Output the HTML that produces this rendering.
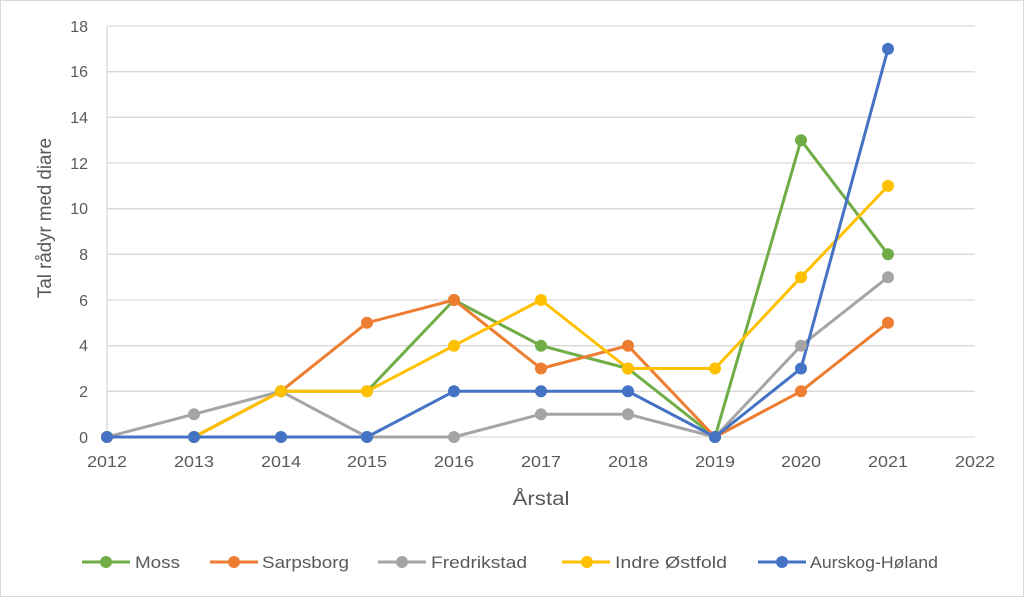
<!DOCTYPE html>
<html><head><meta charset="utf-8"><style>
body{margin:0;background:#fff}
svg{display:block;font-family:"Liberation Sans",sans-serif}
</style></head><body>
<svg width="1024" height="597" viewBox="0 0 1024 597">
<rect x="0.5" y="0.5" width="1023" height="596" fill="#fff" stroke="#d9d9d9"/>
<g stroke="#d9d9d9" stroke-width="1.3">
<line x1="107" y1="26" x2="975" y2="26"/>
<line x1="107" y1="71.7" x2="975" y2="71.7"/>
<line x1="107" y1="117.3" x2="975" y2="117.3"/>
<line x1="107" y1="163" x2="975" y2="163"/>
<line x1="107" y1="208.7" x2="975" y2="208.7"/>
<line x1="107" y1="254.3" x2="975" y2="254.3"/>
<line x1="107" y1="300" x2="975" y2="300"/>
<line x1="107" y1="345.7" x2="975" y2="345.7"/>
<line x1="107" y1="391.3" x2="975" y2="391.3"/>
<line x1="107" y1="437" x2="975" y2="437"/>
<line x1="107" y1="26" x2="107" y2="437"/>
</g>
<g fill="#595959" font-size="16" text-anchor="end">
<text x="88" y="32">18</text><text x="88" y="77">16</text><text x="88" y="123">14</text>
<text x="88" y="169">12</text><text x="88" y="214">10</text><text x="88" y="260">8</text>
<text x="88" y="306">6</text><text x="88" y="351">4</text><text x="88" y="397">2</text>
<text x="88" y="443">0</text>
</g>
<g fill="#595959" font-size="16" text-anchor="middle">
<text x="107" y="467" textLength="40" lengthAdjust="spacingAndGlyphs">2012</text><text x="194" y="467" textLength="40" lengthAdjust="spacingAndGlyphs">2013</text><text x="281" y="467" textLength="40" lengthAdjust="spacingAndGlyphs">2014</text>
<text x="367" y="467" textLength="40" lengthAdjust="spacingAndGlyphs">2015</text><text x="454" y="467" textLength="40" lengthAdjust="spacingAndGlyphs">2016</text><text x="541" y="467" textLength="40" lengthAdjust="spacingAndGlyphs">2017</text>
<text x="628" y="467" textLength="40" lengthAdjust="spacingAndGlyphs">2018</text><text x="715" y="467" textLength="40" lengthAdjust="spacingAndGlyphs">2019</text><text x="801" y="467" textLength="40" lengthAdjust="spacingAndGlyphs">2020</text>
<text x="888" y="467" textLength="40" lengthAdjust="spacingAndGlyphs">2021</text><text x="975" y="467" textLength="40" lengthAdjust="spacingAndGlyphs">2022</text>
<text x="541" y="505" font-size="19" textLength="57" lengthAdjust="spacingAndGlyphs">Årstal</text>
<text transform="translate(51,218) rotate(-90)" font-size="19" textLength="160" lengthAdjust="spacingAndGlyphs">Tal rådyr med diare</text>
</g>
<g fill="none" stroke-width="3" stroke-linejoin="round">
<polyline stroke="#70AD47" points="107,437 194,437 281,391.3 367,391.3 454,300 541,345.7 628,368.5 715,437 801,140.2 888,254.3"/>
<polyline stroke="#ED7D31" points="107,437 194,437 281,391.3 367,322.8 454,300 541,368.5 628,345.7 715,437 801,391.3 888,322.8"/>
<polyline stroke="#A5A5A5" points="107,437 194,414.2 281,391.3 367,437 454,437 541,414.2 628,414.2 715,437 801,345.7 888,277.2"/>
<polyline stroke="#FFC000" points="107,437 194,437 281,391.3 367,391.3 454,345.7 541,300 628,368.5 715,368.5 801,277.2 888,185.9"/>
<polyline stroke="#4472C4" points="107,437 194,437 281,437 367,437 454,391.3 541,391.3 628,391.3 715,437 801,368.5 888,48.9"/>
</g>
<g fill="#70AD47"><circle cx="107" cy="437" r="6"/><circle cx="194" cy="437" r="6"/><circle cx="281" cy="391.3" r="6"/><circle cx="367" cy="391.3" r="6"/><circle cx="454" cy="300" r="6"/><circle cx="541" cy="345.7" r="6"/><circle cx="628" cy="368.5" r="6"/><circle cx="715" cy="437" r="6"/><circle cx="801" cy="140.2" r="6"/><circle cx="888" cy="254.3" r="6"/></g>
<g fill="#ED7D31"><circle cx="107" cy="437" r="6"/><circle cx="194" cy="437" r="6"/><circle cx="281" cy="391.3" r="6"/><circle cx="367" cy="322.8" r="6"/><circle cx="454" cy="300" r="6"/><circle cx="541" cy="368.5" r="6"/><circle cx="628" cy="345.7" r="6"/><circle cx="715" cy="437" r="6"/><circle cx="801" cy="391.3" r="6"/><circle cx="888" cy="322.8" r="6"/></g>
<g fill="#A5A5A5"><circle cx="107" cy="437" r="6"/><circle cx="194" cy="414.2" r="6"/><circle cx="281" cy="391.3" r="6"/><circle cx="367" cy="437" r="6"/><circle cx="454" cy="437" r="6"/><circle cx="541" cy="414.2" r="6"/><circle cx="628" cy="414.2" r="6"/><circle cx="715" cy="437" r="6"/><circle cx="801" cy="345.7" r="6"/><circle cx="888" cy="277.2" r="6"/></g>
<g fill="#FFC000"><circle cx="107" cy="437" r="6"/><circle cx="194" cy="437" r="6"/><circle cx="281" cy="391.3" r="6"/><circle cx="367" cy="391.3" r="6"/><circle cx="454" cy="345.7" r="6"/><circle cx="541" cy="300" r="6"/><circle cx="628" cy="368.5" r="6"/><circle cx="715" cy="368.5" r="6"/><circle cx="801" cy="277.2" r="6"/><circle cx="888" cy="185.9" r="6"/></g>
<g fill="#4472C4"><circle cx="107" cy="437" r="6"/><circle cx="194" cy="437" r="6"/><circle cx="281" cy="437" r="6"/><circle cx="367" cy="437" r="6"/><circle cx="454" cy="391.3" r="6"/><circle cx="541" cy="391.3" r="6"/><circle cx="628" cy="391.3" r="6"/><circle cx="715" cy="437" r="6"/><circle cx="801" cy="368.5" r="6"/><circle cx="888" cy="48.9" r="6"/></g>
<g stroke-width="3" font-size="17" fill="#595959">
<line x1="82" y1="562" x2="130" y2="562" stroke="#70AD47"/><circle cx="106" cy="562" r="6" fill="#70AD47"/><text x="135" y="568" textLength="45" lengthAdjust="spacingAndGlyphs">Moss</text>
<line x1="210" y1="562" x2="258" y2="562" stroke="#ED7D31"/><circle cx="234" cy="562" r="6" fill="#ED7D31"/><text x="262" y="568" textLength="87" lengthAdjust="spacingAndGlyphs">Sarpsborg</text>
<line x1="378" y1="562" x2="426" y2="562" stroke="#A5A5A5"/><circle cx="402" cy="562" r="6" fill="#A5A5A5"/><text x="431" y="568" textLength="96" lengthAdjust="spacingAndGlyphs">Fredrikstad</text>
<line x1="562" y1="562" x2="610" y2="562" stroke="#FFC000"/><circle cx="587" cy="562" r="6" fill="#FFC000"/><text x="615" y="568" textLength="112" lengthAdjust="spacingAndGlyphs">Indre Østfold</text>
<line x1="758" y1="562" x2="806" y2="562" stroke="#4472C4"/><circle cx="782" cy="562" r="6" fill="#4472C4"/><text x="810" y="568" textLength="128" lengthAdjust="spacingAndGlyphs">Aurskog-Høland</text>
</g>
</svg>
</body></html>
